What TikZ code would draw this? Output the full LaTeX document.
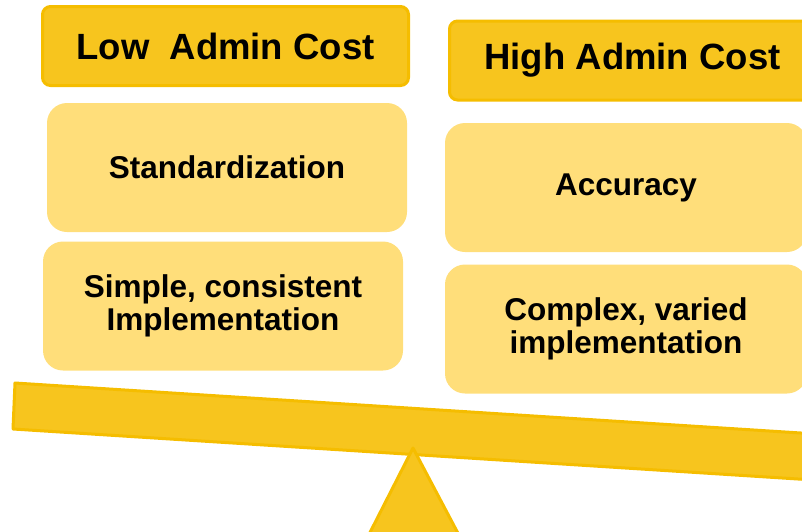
\documentclass[tikz,border=0pt]{standalone}
\usepackage{fontspec}
\setmainfont{Liberation Sans}
\definecolor{hdrfill}{RGB}{247,197,30}
\definecolor{hdrline}{RGB}{245,189,0}
\definecolor{boxfill}{RGB}{255,222,122}
\tikzset{
  header/.style={rectangle, rounded corners=8pt, fill=hdrfill, draw=hdrline, line width=3pt,
    minimum width=366pt, minimum height=79pt, inner sep=0pt,
    font=\bfseries\fontsize{36.5}{40}\selectfont, text=black},
  item/.style={rectangle, rounded corners=20pt, fill=boxfill,
    minimum width=360pt, minimum height=129pt, inner sep=0pt, align=center,
    font=\bfseries\fontsize{31.5}{33}\selectfont, text=black},
  scaleshape/.style={fill=hdrfill, draw=hdrline, line width=3pt, line join=round}
}
\begin{document}
\begin{tikzpicture}[x=1pt,y=-1pt]
\useasboundingbox (0,0) rectangle (802,531);
\clip (0,0) rectangle (802,531);
% boxes
\node[header] (low) at (225.5,46) {Low\ \ Admin Cost};
\node[header] (high) at (632.5,60.5) {High Admin Cost};
\node[item] (std) at (227,167.5) {Standardization};
\node[item] (simple) at (223,306) {Simple, consistent\\Implementation};
\node[item, minimum width=362pt] (acc) at (626,187.5) {Accuracy};
\node[item, minimum width=362pt] (complex) at (626,329) {Complex, varied\\implementation};
% beam
\coordinate (bTL) at (15,383);
\coordinate (bBL) at (13,429);
\coordinate (bTR) at (900,439.3);
\coordinate (bBR) at (897,485.3);
\draw[scaleshape] (bTL) -- (bTR) -- (bBR) -- (bBL) -- cycle;
% fulcrum
\coordinate (apex) at (413,448);
\coordinate (fL) at (358,556);
\coordinate (fR) at (470,556);
\draw[scaleshape] (apex) -- (fR) -- (fL) -- cycle;
\end{tikzpicture}
\end{document}
